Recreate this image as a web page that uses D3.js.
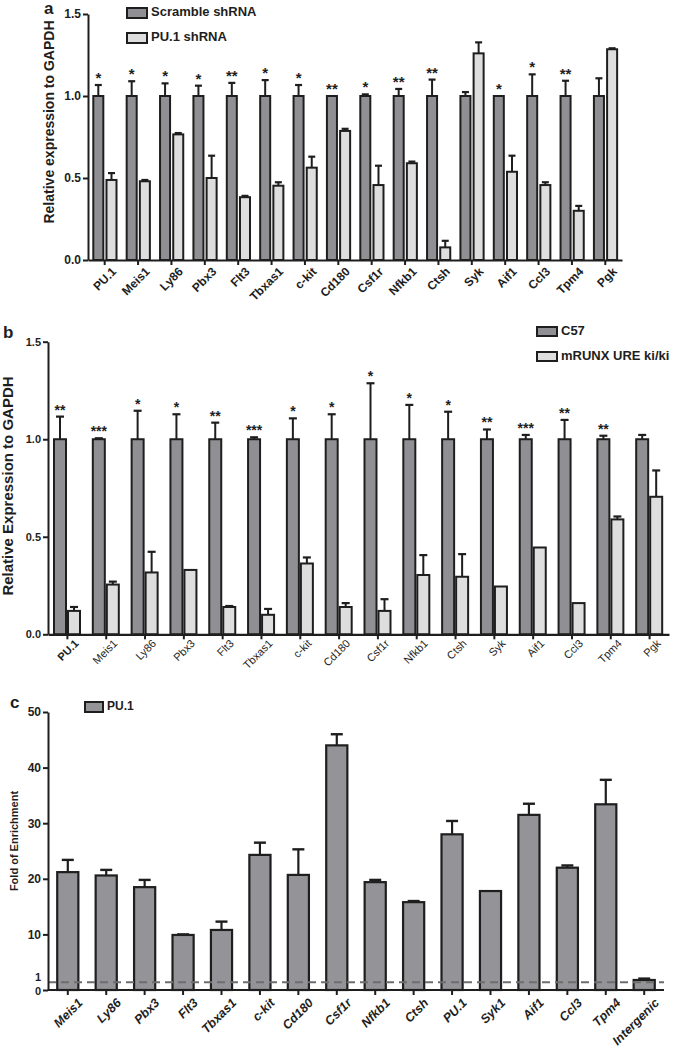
<!DOCTYPE html>
<html>
<head>
<meta charset="utf-8">
<script src="https://cdn.jsdelivr.net/npm/d3@7"></script>
<style>
  html, body { margin: 0; padding: 0; background: #fff; }
  svg { display: block; font-family: "Liberation Sans", Arial, sans-serif; }
</style>
</head>
<body>
<svg id="fig" width="674" height="1050"></svg>
<script>
// ---------- Panel a data ----------
const categoriesA = ["PU.1","Meis1","Ly86","Pbx3","Flt3","Tbxas1","c-kit","Cd180","Csf1r","Nfkb1","Ctsh","Syk","Aif1","Ccl3","Tpm4","Pgk"];
const scrambleMean = [1,1,1,1,1,1,1,1,1,1,1,1,1,1,1,1];
const scrambleErr = [0.067,0.09,0.077,0.063,0.08,0.097,0.067,0,0.01,0.043,0.10,0.024,0,0.132,0.093,0.108];
const pu1shMean = [0.488,0.48,0.766,0.50,0.383,0.453,0.563,0.787,0.457,0.59,0.077,1.26,0.538,0.457,0.30,1.285];
const pu1shErr = [0.042,0.008,0.008,0.136,0.008,0.021,0.067,0.013,0.118,0.01,0.04,0.067,0.098,0.017,0.03,0.006];
const starsA = ["*","*","*","*","**","*","*","**","*","**","**","","*","*","**",""];
const seriesA = ["Scramble shRNA","PU.1 shRNA"];
const ticksA = [0, 0.5, 1.0, 1.5];

// ---------- Panel b data ----------
const categoriesB = ["PU.1","Meis1","Ly86","Pbx3","Flt3","Tbxas1","c-kit","Cd180","Csf1r","Nfkb1","Ctsh","Syk","Aif1","Ccl3","Tpm4","Pgk"];
const c57Mean = [1,1,1,1,1,1,1,1,1,1,1,1,1,1,1,1];
const c57Err = [0.116,0.005,0.146,0.128,0.085,0.01,0.107,0.128,0.287,0.176,0.141,0.05,0.022,0.099,0.018,0.022];
const ureMean = [0.12,0.255,0.317,0.33,0.14,0.10,0.363,0.14,0.12,0.304,0.295,0.245,0.445,0.16,0.589,0.705];
const ureErr = [0.02,0.015,0.106,0,0.005,0.03,0.031,0.02,0.06,0.102,0.116,0,0,0,0.015,0.135];
const starsB = ["**","***","*","*","**","***","*","*","*","*","*","**","***","**","**",""];
const seriesB = ["C57","mRUNX URE ki/ki"];
const ticksB = [0, 0.5, 1.0, 1.5];

// ---------- Panel c data ----------
const categoriesC = ["Meis1","Ly86","Pbx3","Flt3","Tbxas1","c-kit","Cd180","Csf1r","Nfkb1","Ctsh","PU.1","Syk1","Aif1","Ccl3","Tpm4","Intergenic"];
const enrichMean = [21.2,20.6,18.5,9.9,10.8,24.3,20.7,44.0,19.4,15.8,28.0,17.8,31.5,22.0,33.4,1.8];
const enrichErr = [2.2,1.0,1.3,0.1,1.5,2.2,4.6,2.0,0.4,0.2,2.4,0,2.0,0.4,4.4,0.25];
const seriesC = ["PU.1"];
const ticksC = [0, 10, 20, 30, 40, 50];
const thresholdC = 1.4;

const INK = "#1e1e1e";
const DARK = "#909094";
const LIGHT = "#dedede";

const svg = d3.select("#fig");

function grouped(opt) {
  const g = svg.append("g");
  const x0 = d3.scaleBand().domain(opt.categories).range([opt.left, opt.right]).padding(0);
  const x1 = d3.scaleBand().domain(opt.series).range(opt.inner).paddingInner(opt.innerPad);
  const y = d3.scaleLinear().domain([0, 1.5]).range([opt.bottom, opt.top]);

  const data = opt.categories.map((c, i) => ({
    cat: c, star: opt.stars[i],
    vals: [
      {s: opt.series[0], v: opt.m1[i], e: opt.e1[i], fill: DARK},
      {s: opt.series[1], v: opt.m2[i], e: opt.e2[i], fill: LIGHT}
    ]
  }));

  const grp = g.selectAll("g.cat").data(data).join("g")
    .attr("transform", d => `translate(${x0(d.cat)},0)`);

  // error bars (upper only)
  grp.selectAll("g.err").data(d => d.vals.filter(v => v.e > 0)).join("g").each(function(d) {
    const cx = x1(d.s) + x1.bandwidth() / 2;
    const s = d3.select(this);
    s.append("line").attr("x1", cx).attr("x2", cx).attr("y1", y(d.v)).attr("y2", y(d.v + d.e))
      .attr("stroke", INK).attr("stroke-width", 2);
    s.append("line").attr("x1", cx - opt.cap).attr("x2", cx + opt.cap)
      .attr("y1", y(d.v + d.e)).attr("y2", y(d.v + d.e))
      .attr("stroke", INK).attr("stroke-width", 2.2);
  });

  grp.selectAll("rect").data(d => d.vals).join("rect")
    .attr("x", d => x1(d.s))
    .attr("width", x1.bandwidth())
    .attr("y", d => y(d.v))
    .attr("height", d => y(0) - y(d.v))
    .attr("fill", d => d.fill)
    .attr("stroke", INK).attr("stroke-width", 2);

  // stars
  grp.append("text")
    .attr("x", x1(opt.series[0]) + x1.bandwidth() / 2)
    .attr("y", d => y(d.vals[0].v + d.vals[0].e) - opt.starGap)
    .attr("text-anchor", "middle")
    .attr("font-size", opt.starSize).attr("font-weight", "bold").attr("fill", INK)
    .text(d => d.star);

  // y axis
  const ya = g.append("g").attr("transform", `translate(${opt.left},0)`)
    .call(d3.axisLeft(y).tickValues(opt.ticks).tickFormat(d3.format(".1f")).tickSize(5).tickSizeOuter(0));
  ya.select(".domain").attr("stroke", INK).attr("stroke-width", 2);
  ya.selectAll(".tick line").attr("stroke", INK).attr("stroke-width", 2);
  ya.selectAll(".tick text").attr("font-size", opt.tickSize).attr("font-weight", "bold")
    .attr("font-family", "Liberation Sans, Arial, sans-serif").attr("fill", INK).attr("x", -7);

  // x axis
  const xa = g.append("g").attr("transform", `translate(0,${opt.bottom})`)
    .call(d3.axisBottom(x0).tickSize(5).tickSizeOuter(0));
  xa.select(".domain").attr("stroke", INK).attr("stroke-width", 2.2);
  xa.selectAll(".tick line").attr("stroke", INK).attr("stroke-width", 2);
  xa.selectAll(".tick text")
    .attr("font-size", opt.xSize).attr("font-weight", (d, i) => opt.xBold(i) ? "bold" : "normal")
    .attr("font-family", "Liberation Sans, Arial, sans-serif").attr("fill", INK)
    .attr("text-anchor", "end")
    .attr("y", 0).attr("dy", "0.75em")
    .attr("transform", `translate(${opt.xdx},${opt.xdy}) rotate(-45)`);

  // y title
  g.append("text")
    .attr("transform", `translate(${opt.titleX},${opt.titleY}) rotate(-90)`)
    .attr("text-anchor", "middle").attr("dominant-baseline", "middle")
    .attr("font-size", opt.titleSize).attr("font-weight", "bold").attr("fill", INK)
    .text(opt.title);

  // legend
  opt.series.forEach((s, i) => {
    const ly = opt.legY + i * opt.legStep;
    g.append("rect").attr("x", opt.legX).attr("y", ly).attr("width", opt.legW).attr("height", opt.legH)
      .attr("fill", i === 0 ? DARK : LIGHT).attr("stroke", INK).attr("stroke-width", 2);
    g.append("text").attr("x", opt.legX + opt.legW + 4).attr("y", ly + opt.legH / 2)
      .attr("dominant-baseline", "middle")
      .attr("font-size", opt.legSize).attr("font-weight", "bold").attr("fill", INK).text(s);
  });

  // panel letter
  g.append("text").attr("x", opt.letterX).attr("y", opt.letterY)
    .attr("font-size", 17).attr("font-weight", "bold").attr("fill", INK).text(opt.letter);
}

grouped({
  categories: categoriesA, series: seriesA, m1: scrambleMean, e1: scrambleErr, m2: pu1shMean, e2: pu1shErr,
  stars: starsA, ticks: ticksA,
  left: 88, right: 622, top: 14, bottom: 260, inner: [5.3, 28.5], innerPad: 0.24, cap: 3.5,
  starGap: 2, starSize: 15, tickSize: 12, xSize: 12, xBold: () => true, xdx: 6, xdy: 6,
  title: "Relative expression to GAPDH", titleX: 50, titleY: 122, titleSize: 14,
  legX: 127, legY: 8, legStep: 25, legW: 20, legH: 10, legSize: 13,
  letter: "a", letterX: 44, letterY: 14
});

grouped({
  categories: categoriesB, series: seriesB, m1: c57Mean, e1: c57Err, m2: ureMean, e2: ureErr,
  stars: starsB, ticks: ticksB,
  left: 48, right: 669, top: 341.7, bottom: 634.3, inner: [6, 32], innerPad: 0.143, cap: 4,
  starGap: 2, starSize: 14, tickSize: 11, xSize: 11, xBold: i => i === 0, xdx: 6, xdy: 4,
  title: "Relative Expression to GAPDH", titleX: 9, titleY: 486, titleSize: 15,
  legX: 537, legY: 327, legStep: 25, legW: 20, legH: 9, legSize: 13,
  letter: "b", letterX: 3, letterY: 338
});

// ---------- Panel c ----------
(function() {
  const left = 48, right = 664, top = 712, bottom = 990;
  const g = svg.append("g");
  const x = d3.scaleBand().domain(categoriesC).range([left, right]).paddingInner(0.45).paddingOuter(0.24);
  const y = d3.scaleLinear().domain([0, 50]).range([bottom, top]);
  const data = categoriesC.map((c, i) => ({c, v: enrichMean[i], e: enrichErr[i]}));

  g.selectAll("g.err").data(data.filter(d => d.e > 0)).join("g").each(function(d) {
    const cx = x(d.c) + x.bandwidth() / 2;
    const s = d3.select(this);
    s.append("line").attr("x1", cx).attr("x2", cx).attr("y1", y(d.v)).attr("y2", y(d.v + d.e))
      .attr("stroke", INK).attr("stroke-width", 2.2);
    s.append("line").attr("x1", cx - 6).attr("x2", cx + 6).attr("y1", y(d.v + d.e)).attr("y2", y(d.v + d.e))
      .attr("stroke", INK).attr("stroke-width", 2.4);
  });

  g.selectAll("rect.bar").data(data).join("rect").attr("class", "bar")
    .attr("x", d => x(d.c)).attr("width", x.bandwidth())
    .attr("y", d => y(d.v)).attr("height", d => y(0) - y(d.v))
    .attr("fill", "#949498").attr("stroke", INK).attr("stroke-width", 2.2);

  g.append("line").attr("x1", left).attr("x2", right).attr("y1", y(thresholdC)).attr("y2", y(thresholdC))
    .attr("stroke", "#6e6e6e").attr("stroke-width", 2).attr("stroke-dasharray", "8,5");

  const ya = g.append("g").attr("transform", `translate(${left},0)`)
    .call(d3.axisLeft(y).tickValues(ticksC).tickSize(5).tickSizeOuter(0));
  ya.select(".domain").attr("stroke", INK).attr("stroke-width", 2);
  ya.selectAll(".tick line").attr("stroke", INK).attr("stroke-width", 2);
  ya.selectAll(".tick text").attr("font-size", d => d === 0 ? 11 : 12).attr("font-weight", "bold")
    .attr("font-family", "Liberation Sans, Arial, sans-serif").attr("fill", INK).attr("x", -7)
    .attr("dy", d => d === 0 ? "0.42em" : "0.32em");
  // extra "1" label
  g.append("text").attr("x", left - 7).attr("y", y(1) - 6.5).attr("text-anchor", "end")
    .attr("dominant-baseline", "middle").attr("font-size", 11).attr("font-weight", "bold")
    .attr("fill", INK).text("1");

  const xa = g.append("g").attr("transform", `translate(0,${bottom})`)
    .call(d3.axisBottom(x).tickSize(5).tickSizeOuter(0));
  xa.select(".domain").attr("stroke", INK).attr("stroke-width", 2.2)
    .attr("d", `M${left},0H${right}`);
  xa.selectAll(".tick line").attr("stroke", INK).attr("stroke-width", 2);
  xa.selectAll(".tick text").attr("font-size", 12.5).attr("font-weight", "bold").attr("font-style", "italic")
    .attr("font-family", "Liberation Sans, Arial, sans-serif").attr("fill", INK)
    .attr("text-anchor", "end").attr("y", 0).attr("dy", "0.75em")
    .attr("transform", "translate(9,7) rotate(-45)");

  g.append("text").attr("transform", `translate(15,841) rotate(-90)`)
    .attr("text-anchor", "middle").attr("dominant-baseline", "middle")
    .attr("font-size", 11).attr("font-weight", "bold").attr("fill", INK).text("Fold of Enrichment");

  g.append("rect").attr("x", 85).attr("y", 702).attr("width", 18).attr("height", 10)
    .attr("fill", "#949498").attr("stroke", INK).attr("stroke-width", 2);
  g.append("text").attr("x", 107).attr("y", 707).attr("dominant-baseline", "middle")
    .attr("font-size", 12).attr("font-weight", "bold").attr("fill", INK).text(seriesC[0]);

  g.append("text").attr("x", 10).attr("y", 708)
    .attr("font-size", 17).attr("font-weight", "bold").attr("fill", INK).text("c");
})();
</script>
</body>
</html>
